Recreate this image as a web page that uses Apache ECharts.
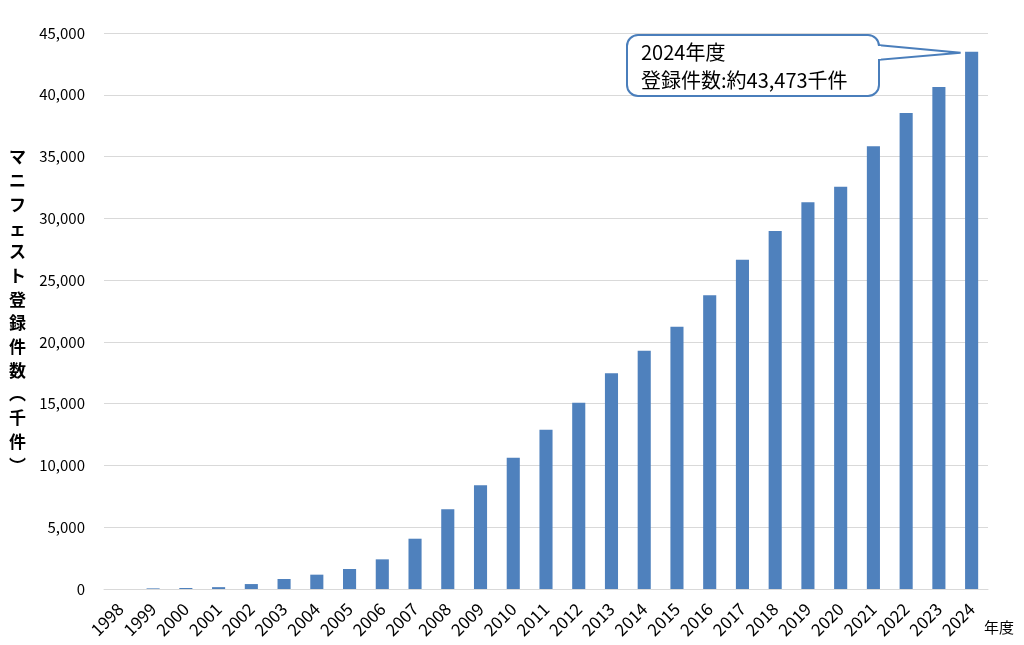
<!DOCTYPE html>
<html>
<head>
<meta charset="utf-8">
<script src="https://cdn.jsdelivr.net/npm/echarts@6/dist/echarts.min.js"></script>
<style>
html,body{margin:0;padding:0;background:#fff;}
#c{width:1024px;height:645px;}
</style>
</head>
<body>
<div id="c"></div>
<script>
var categories = ['1998','1999','2000','2001','2002','2003','2004','2005','2006','2007','2008','2009','2010','2011','2012','2013','2014','2015','2016','2017','2018','2019','2020','2021','2022','2023','2024'];
var values = [0,50,80,150,400,810,1160,1620,2400,4070,6450,8390,10630,12890,15070,17460,19290,21230,23770,26650,28970,31300,32560,35830,38520,40630,43473];
var yTicks = {min:0, max:45000, interval:5000};
var yAxisName = 'マ\nニ\nフ\nェ\nス\nト\n登\n録\n件\n数\n︵\n千\n件\n︶';
var xAxisUnit = '年度';
var calloutLines = ['2024年度', '登録件数:約43,473千件'];

var FONT = '"Noto Sans CJK JP", "Noto Sans", sans-serif';
var chart = echarts.init(document.getElementById('c'));
chart.setOption({
  animation: false,
  textStyle: {fontFamily: FONT},
  grid: {left: 104, right: 36, top: 33, bottom: 56},
  xAxis: {
    type: 'category',
    data: categories,
    axisLine: {lineStyle: {color: '#d9d9d9', width: 1}},
    axisTick: {show: false},
    axisLabel: {rotate: 45, color: '#000', fontSize: 17, fontFamily: FONT, margin: 17, interval: 0}
  },
  yAxis: {
    type: 'value',
    min: yTicks.min, max: yTicks.max, interval: yTicks.interval,
    name: yAxisName,
    nameLocation: 'middle',
    nameRotate: 0,
    nameGap: 78,
    nameTextStyle: {color: '#000', fontSize: 17, fontWeight: 'bold', lineHeight: 23.7, fontFamily: FONT},
    axisLine: {show: false},
    axisTick: {show: false},
    splitLine: {lineStyle: {color: '#d9d9d9', width: 1}},
    axisLabel: {
      color: '#000', fontSize: 15, margin: 19, fontFamily: FONT,
      formatter: function (v) { return v.toLocaleString('en-US'); }
    }
  },
  series: [{
    type: 'bar',
    data: values,
    barWidth: '40%',
    itemStyle: {color: '#4f81bd'}
  }]
});

function drawGraphics() {
  var tip = chart.convertToPixel({xAxisIndex: 0, yAxisIndex: 0}, [categories.length - 1, values[values.length - 1]]);
  var bx = 627, by = 35, bw = 252, bh = 61;
  chart.setOption({
    graphic: [
      {
        type: 'polygon', z: 10,
        shape: {points: [[bx + bw - 2, by + 10], [tip[0] - 11, tip[1] + 1], [bx + bw - 2, by + 25]]},
        style: {fill: '#fff', stroke: '#4a7ebb', lineWidth: 2}
      },
      {
        type: 'rect', z: 11,
        shape: {x: bx, y: by, width: bw, height: bh, r: 11},
        style: {fill: '#fff', stroke: '#4a7ebb', lineWidth: 2}
      },
      {
        type: 'rect', z: 12,
        shape: {x: bx + bw - 6, y: by + 11, width: 8, height: 13},
        style: {fill: '#fff'}
      },
      {
        type: 'text', z: 13, left: bx + 14, top: by + 7,
        style: {text: calloutLines[0], fill: '#000', fontSize: 20, fontFamily: FONT}
      },
      {
        type: 'text', z: 13, left: bx + 14, top: by + 35,
        style: {text: calloutLines[1], fill: '#000', fontSize: 20, fontFamily: FONT}
      },
      {
        type: 'text', left: 984, top: 620,
        style: {text: xAxisUnit, fill: '#000', fontSize: 15, fontFamily: FONT}
      }
    ]
  });
}
drawGraphics();
</script>
</body>
</html>
